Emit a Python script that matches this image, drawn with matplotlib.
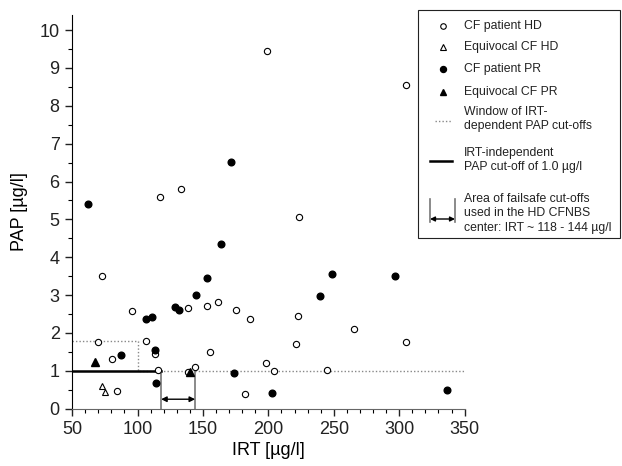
import matplotlib
matplotlib.use("Agg")
import matplotlib.pyplot as plt
from matplotlib.lines import Line2D
from matplotlib.patches import Rectangle, FancyArrowPatch
from matplotlib.ticker import MultipleLocator

plt.rcParams['font.family'] = ['Liberation Sans', 'DejaVu Sans']

# CF patients, Heidelberg (open circles)
hd_irt = [199.3, 305.3, 117.1, 133.1, 223.2, 72.6, 95.7, 69.9, 80.8, 84.5,
          106.6, 113.4, 115.7, 138.8, 138.6, 143.7, 152.9, 155.7, 161.8, 175.0,
          181.9, 186.0, 197.9, 204.0, 220.8, 222.9, 245.0, 265.7, 305.3]
hd_pap = [9.45, 8.55, 5.6, 5.8, 5.05, 3.5, 2.58, 1.75, 1.30, 0.46,
          1.80, 1.45, 1.03, 2.66, 0.96, 1.11, 2.71, 1.50, 2.81, 2.61,
          0.40, 2.36, 1.20, 1.00, 1.71, 2.46, 1.01, 2.10, 1.76]

# equivocal CF, HD (open triangles)
eq_hd_irt = [72.6, 75.4]
eq_hd_pap = [0.60, 0.43]

# CF patients, PR (filled circles)
pr_irt = [62.3, 171.6, 87.6, 106.6, 110.9, 113.4, 114.4, 128.4, 131.5, 144.4,
          152.9, 163.9, 174.0, 203.0, 239.8, 248.5, 297.1, 336.9]
pr_pap = [5.41, 6.51, 1.43, 2.38, 2.41, 1.56, 0.68, 2.69, 2.61, 3.00,
          3.45, 4.34, 0.94, 0.42, 2.98, 3.56, 3.51, 0.49]

# equivocal CF, PR (filled triangles)
eq_pr_irt = [67.5, 140.2]
eq_pr_pap = [1.23, 0.97]

# cut-off definitions
window_irt = [50, 100, 100, 350]
window_pap = [1.8, 1.8, 1.0, 1.0]
fixed_cutoff = 1.0
fixed_irt_end = 118
failsafe = [118, 144]

W, H = 622, 466
fig = plt.figure(figsize=(W / 100, H / 100), dpi=100)
ax = fig.add_axes([0.116, 0.123, 0.631, 0.845])

dotted = (0, (1, 1.5))
ax.plot(window_irt, window_pap, color='#888888', lw=1, ls=dotted)
ax.plot([50, fixed_irt_end], [fixed_cutoff, fixed_cutoff], color='black', lw=1.8)
for x in failsafe:
    ax.plot([x, x], [0, fixed_cutoff], color='#777777', lw=1.2)
ax.annotate('', xy=(failsafe[0], 0.25), xytext=(failsafe[1], 0.25),
            arrowprops=dict(arrowstyle='<|-|>', color='black', lw=1,
                            mutation_scale=8, shrinkA=0, shrinkB=0))

ax.plot(hd_irt, hd_pap, 'o', mfc='white', mec='black', ms=4.5, mew=0.8)
ax.plot(eq_hd_irt, eq_hd_pap, '^', mfc='white', mec='black', ms=5, mew=0.8)
ax.plot(pr_irt, pr_pap, 'o', color='black', ms=4.8)
ax.plot(eq_pr_irt, eq_pr_pap, '^', color='black', ms=5.5)

ax.set_xlim(50, 350)
ax.set_ylim(0, 10.4)
ax.xaxis.set_major_locator(MultipleLocator(50))
ax.xaxis.set_minor_locator(MultipleLocator(10))
ax.yaxis.set_major_locator(MultipleLocator(1))
ax.yaxis.set_minor_locator(MultipleLocator(0.5))
ax.tick_params(labelsize=13, length=5, width=1, colors='#222222')
ax.tick_params(axis='x', pad=4)
ax.tick_params(axis='y', pad=4)
ax.tick_params(which='minor', length=3, width=0.8)
ax.spines['top'].set_visible(False)
ax.spines['right'].set_visible(False)
ax.spines['bottom'].set_color('#666666')
ax.spines['left'].set_color('black')
ax.set_xlabel('IRT [µg/l]', fontsize=13, labelpad=3)
ax.set_ylabel('PAP [µg/l]', fontsize=13, labelpad=8)


# legend box drawn in figure pixel positions
def fx(px):
    return px / W


def fy(py):
    return 1 - py / H


tf = fig.transFigure
fig.add_artist(Rectangle((fx(418), fy(238)), fx(620) - fx(418), fy(10) - fy(238),
                         transform=tf, fill=False, edgecolor='#222222', lw=0.8))

text_x = fx(464)
mk_x = fx(443)
fs = 8.8
fig.add_artist(Line2D([mk_x], [fy(25.7)], transform=tf, ls='', marker='o',
                      mfc='white', mec='black', ms=4, mew=0.8))
fig.add_artist(Line2D([mk_x], [fy(47.3)], transform=tf, ls='', marker='^',
                      mfc='white', mec='black', ms=4, mew=0.8))
fig.add_artist(Line2D([mk_x], [fy(69.3)], transform=tf, ls='', marker='o',
                      color='black', ms=4.3))
fig.add_artist(Line2D([mk_x], [fy(91.7)], transform=tf, ls='', marker='^',
                      color='black', ms=5))
fig.add_artist(Line2D([fx(435), fx(452)], [fy(121), fy(121)], transform=tf,
                      color='#888888', lw=1, ls=dotted))
fig.add_artist(Line2D([fx(430), fx(452)], [fy(161.3), fy(161.3)], transform=tf,
                      color='black', lw=1.8))
for bx in (430, 455):
    fig.add_artist(Line2D([fx(bx), fx(bx)], [fy(199), fy(222)], transform=tf,
                          color='#777777', lw=1.2))
fig.add_artist(FancyArrowPatch((fx(430), fy(219)), (fx(455), fy(219)), transform=tf,
                               arrowstyle='<|-|>', mutation_scale=7, color='black',
                               lw=1, shrinkA=0, shrinkB=0))

legend_rows = [
    (25.7, 'CF patient HD'),
    (47.3, 'Equivocal CF HD'),
    (69.3, 'CF patient PR'),
    (91.7, 'Equivocal CF PR'),
    (111.7, 'Window of IRT-'),
    (126.0, 'dependent PAP cut-offs'),
    (153.3, 'IRT-independent'),
    (167.3, 'PAP cut-off of 1.0 µg/l'),
    (199.0, 'Area of failsafe cut-offs'),
    (213.3, 'used in the HD CFNBS'),
    (227.7, 'center: IRT ~ 118 - 144 µg/l'),
]
for py, txt in legend_rows:
    fig.text(text_x, fy(py), txt, fontsize=fs, va='center', ha='left', color='#222222')

fig.savefig('out.png', dpi=100)
